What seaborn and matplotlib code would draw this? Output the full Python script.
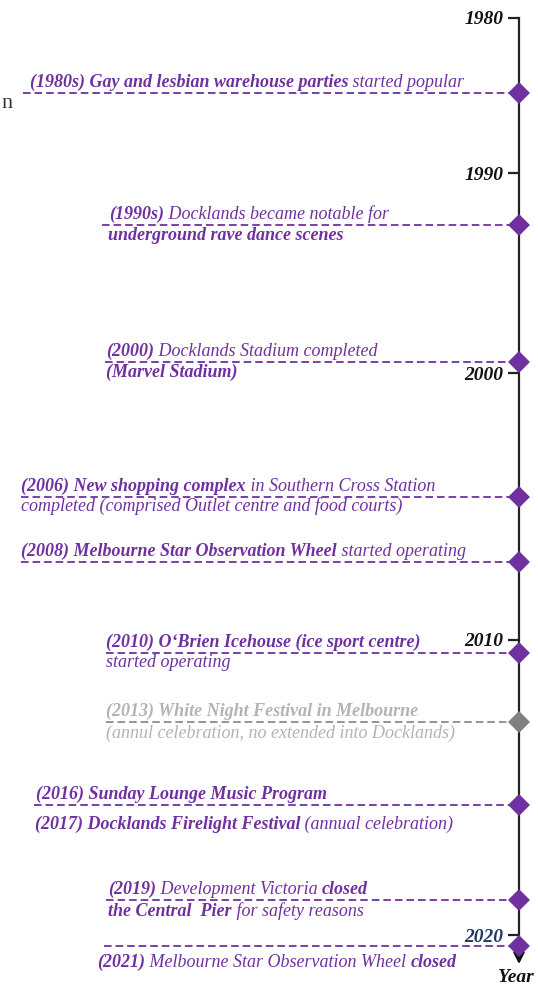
import matplotlib
matplotlib.use('Agg')
import matplotlib.pyplot as plt
import matplotlib.transforms as mtransforms
import seaborn as sns
import pandas as pd

# timeline axis (positions along the timeline, top -> bottom)
tick_pos = [18, 173, 373, 640, 935]
tick_years = ['1980', '1990', '2000', '2010', '2020']

# events
event_pos = [93, 225, 362, 497, 562, 653, 722, 805, 900, 946]
event_status = ['shown', 'shown', 'shown', 'shown', 'shown',
                'shown', 'faded', 'shown', 'shown', 'shown']
# text runs: (text, bold)
line1_runs = [
    [('(1980s) Gay and lesbian warehouse parties', True), (' started popular', False)],
    [('(1990s)', True), (' Docklands became notable for', False)],
    [('(2000)', True), (' Docklands Stadium completed', False)],
    [('(2006) New shopping complex', True), (' in Southern Cross Station', False)],
    [('(2008) Melbourne Star Observation Wheel', True), (' started operating', False)],
    [('(2010) O\u2018Brien Icehouse (ice sport centre)', True)],
    [('(2013) White Night Festival in Melbourne', True)],
    [('(2016) Sunday Lounge Music Program', True)],
    [('(2019)', True), (' Development Victoria ', False), ('closed', True)],
    [],
]
line2_runs = [
    [],
    [('underground rave dance scenes', True)],
    [('(Marvel Stadium)', True)],
    [('completed (comprised Outlet centre and food courts)', False)],
    [],
    [('started operating', False)],
    [('(annul celebration, no extended into Docklands)', False)],
    [('(2017) Docklands Firelight Festival', True), (' (annual celebration)', False)],
    [('the Central  Pier', True), (' for safety reasons', False)],
    [('(2021)', True), (' Melbourne Star Observation Wheel ', False), ('closed', True)],
]

# layout
axis_x = 519
line_x0 = [23, 102, 105, 21, 21, 106, 106, 34, 106, 104]
text_x = [30, 109, 106, 21, 21, 106, 106, 36, 108, 97]
line2_x = [30, 108, 106, 21, 21, 106, 106, 35, 108, 97]
line2_gap = [15, 15, 15, 14, 14, 14, 16, 24, 16, 21]

PURPLE = '#7030A0'
colors = {'shown': PURPLE, 'faded': '#808080'}
text_colors = {'shown': PURPLE, 'faded': '#b3b3b3'}
line_colors = {'shown': PURPLE, 'faded': '#8c8c8c'}

df = pd.DataFrame({'pos': event_pos, 'status': event_status,
                   'x0': line_x0, 'axis': axis_x})

sns.set_theme(style='white')
plt.rcParams['font.family'] = ['Liberation Serif', 'DejaVu Serif']

fig = plt.figure(figsize=(5.38, 9.89), dpi=100)
ax = fig.add_axes([0, 0, 1, 1])
ax.set_xlim(0, 538)
ax.set_ylim(989, 0)

# dashed connector lines
for _, r in df.iterrows():
    ax.plot([r['x0'], r['axis']], [r['pos'], r['pos']],
            color=line_colors[r['status']], lw=1.3,
            ls=(0, (4.2, 2.2)), zorder=2)

# diamonds on the axis
sns.scatterplot(data=df, x='axis', y='pos', hue='status', palette=colors,
                marker='D', s=125, linewidth=0, legend=False, zorder=5, ax=ax)
ax.set_xlabel('')
ax.set_ylabel('')

# axis spine with arrow
for s in ['top', 'right', 'bottom']:
    ax.spines[s].set_visible(False)
ax.spines['left'].set_position(('data', axis_x))
ax.spines['left'].set_bounds(tick_pos[0], 950)
ax.spines['left'].set_linewidth(1.6)
ax.spines['left'].set_color('#222222')
ax.spines['left'].set_zorder(1)
ax.annotate('', xy=(axis_x, 964), xytext=(axis_x, 948),
            arrowprops=dict(arrowstyle='-|>,head_length=0.55,head_width=0.28',
                            color='#111111', lw=1.6, shrinkA=0, shrinkB=0))
ax.text(axis_x - 3, 978, 'Year', ha='center', va='center', fontsize=14,
        fontweight='bold', fontstyle='italic', color='#111111')

ax.set_xticks([])
ax.set_yticks(tick_pos, labels=tick_years)
ax.tick_params(axis='y', left=True, direction='out', length=8, width=1.6,
               color='#222222', pad=3, labelsize=14)
for lab in ax.get_yticklabels():
    lab.set_fontweight('bold')
    lab.set_fontstyle('italic')
    lab.set_color('#1f3864' if lab.get_text() == '2020' else '#111111')

# fragment at left edge
ax.text(1, 104, 'n', ha='left', va='center', fontsize=16, color='#333333')

renderer = fig.canvas.get_renderer()


def draw_runs(x, y, runs, color):
    dx = 0
    for s, bold in runs:
        tr = mtransforms.offset_copy(ax.transData, fig=fig, x=dx, y=0, units='dots')
        t = ax.text(x, y, s, transform=tr, ha='left', va='baseline',
                    fontsize=13, fontstyle='italic',
                    fontweight='bold' if bold else 'normal', color=color)
        dx += t.get_window_extent(renderer).width


for i in range(len(event_pos)):
    c = text_colors[event_status[i]]
    if line1_runs[i]:
        draw_runs(text_x[i], event_pos[i] - 6, line1_runs[i], c)
    if line2_runs[i]:
        draw_runs(line2_x[i], event_pos[i] + line2_gap[i], line2_runs[i], c)

fig.savefig('out.png', dpi=100)
